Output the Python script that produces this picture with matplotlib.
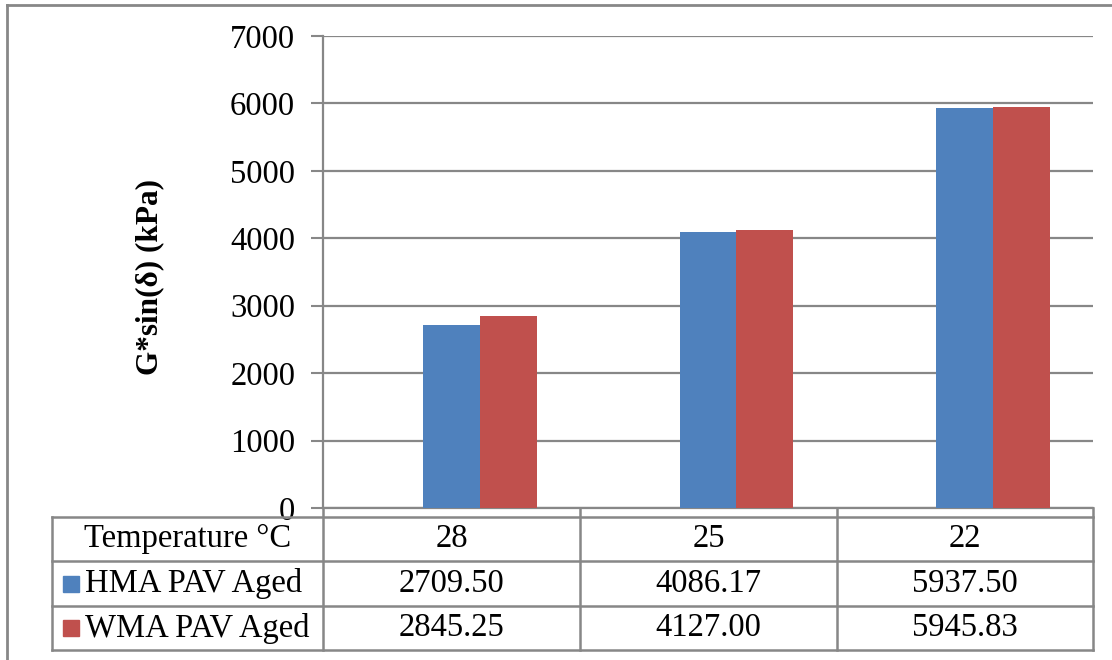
import matplotlib.pyplot as plt
import numpy as np

plt.rcParams['font.family'] = ['Liberation Serif', 'DejaVu Serif']

# data
temps = ['28', '25', '22']
hma = [2709.50, 4086.17, 5937.50]
wma = [2845.25, 4127.00, 5945.83]
series_names = ['HMA PAV Aged', 'WMA PAV Aged']
row_header = 'Temperature \u00b0C'
yticks = [0, 1000, 2000, 3000, 4000, 5000, 6000, 7000]

blue = '#4F81BD'
red = '#C0504D'
line_gray = '#878787'
fs = 23.5

W, H = 1112, 660
fig = plt.figure(figsize=(W / 100, H / 100), dpi=100)

# plot area in pixels: x 323..1093, y 36..508
px_l, px_r, px_t, px_b = 323, 1093, 36, 508
ax = fig.add_axes([px_l / W, 1 - px_b / H, (px_r - px_l) / W, (px_b - px_t) / H])

x = np.arange(len(temps))
w = 57 / 257
ax.bar(x, hma, w, color=blue, zorder=3)
ax.bar(x + w, wma, w, color=red, zorder=3)

ax.set_xlim(-0.5, len(temps) - 0.5)
ax.set_ylim(0, 7000)
ax.set_yticks(yticks)
ax.set_yticklabels([str(t) for t in yticks], fontsize=fs)
ax.set_xticks([])
ax.tick_params(axis='y', length=9, width=1.5, color=line_gray, pad=11)
ax.grid(axis='y', color=line_gray, lw=1.6, zorder=0)
ax.set_axisbelow(True)
for s in ['top', 'right']:
    ax.spines[s].set_visible(False)
for s in ['left', 'bottom']:
    ax.spines[s].set_color(line_gray)
    ax.spines[s].set_linewidth(1.6)

fig.text(150 / W, 1 - 277 / H, 'G*sin(\u03b4) (kPa)', rotation=90, fontsize=22.5,
         fontweight='bold', ha='center', va='center')

# data table below the plot, in pixel coordinates
tab = fig.add_axes([0, 0, 1, 1], facecolor='none')
tab.set_xlim(0, W)
tab.set_ylim(H, 0)
tab.axis('off')

col_x = [52, 323, 580, 837, 1093]
row_y = [517, 561, 606, 650]
lk = dict(color=line_gray, lw=1.8)
for yy in row_y:
    tab.plot([col_x[0], col_x[-1]], [yy, yy], **lk)
tab.plot([col_x[0], col_x[0]], [row_y[0], row_y[-1]], **lk)
for xx in col_x[1:]:
    tab.plot([xx, xx], [px_b, row_y[-1]], **lk)

# outer chart frame
tab.plot([7, 7], [5, H], color=line_gray, lw=2)
tab.plot([7, W], [5, 5], color=line_gray, lw=2)

centers = [(a + b) / 2 for a, b in zip(row_y[:-1], row_y[1:])]
col_centers = [(a + b) / 2 for a, b in zip(col_x[1:-1], col_x[2:])]
tab.text((col_x[0] + col_x[1]) / 2, centers[0], row_header, fontsize=fs,
         ha='center', va='center')
for cx, t in zip(col_centers, temps):
    tab.text(cx, centers[0], t, fontsize=fs, ha='center', va='center')

for ry, name, vals, c in zip(centers[1:], series_names, [hma, wma], [blue, red]):
    tab.add_patch(plt.Rectangle((63, ry - 8), 16, 16, color=c))
    tab.text(85, ry, name, fontsize=fs, ha='left', va='center')
    for cx, v in zip(col_centers, vals):
        tab.text(cx, ry, f'{v:.2f}', fontsize=fs, ha='center', va='center')

fig.savefig('out.png', dpi=100)
